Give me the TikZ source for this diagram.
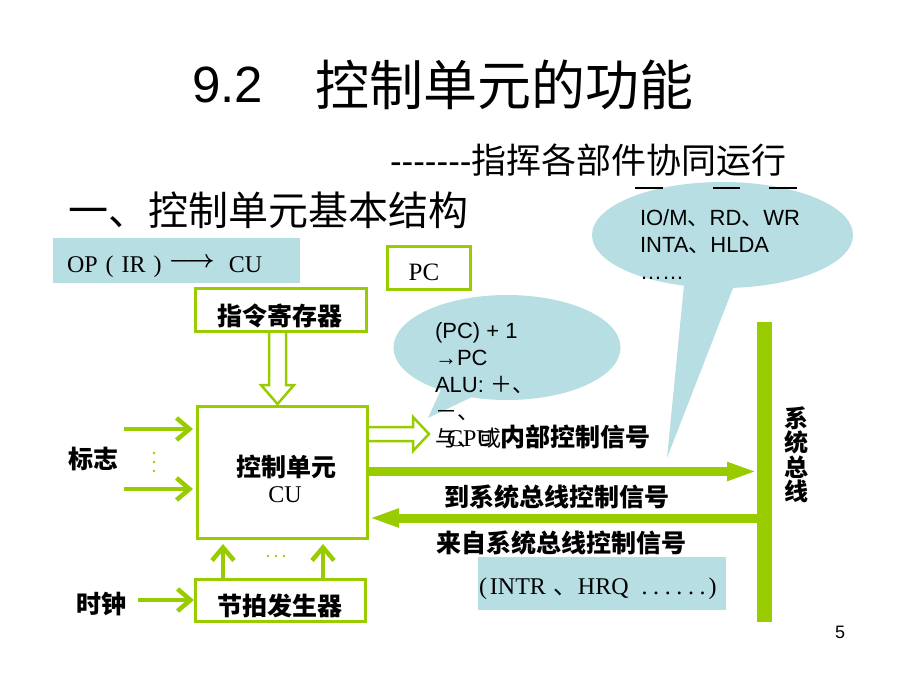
\documentclass[tikz,border=0pt]{standalone}
\usepackage{fontspec}
\setmainfont{Liberation Sans}
\newfontfamily\cjk{Noto Sans CJK SC}
\newfontfamily\tms{Liberation Serif}
\usetikzlibrary{arrows.meta,calc}
\definecolor{gr}{RGB}{153,204,0}
\definecolor{lb}{RGB}{183,222,227}
\newcommand\fz[1]{\fontsize{#1}{#1}\selectfont}
\begin{document}
\begin{tikzpicture}[x=1pt,y=-1pt,
  box/.style={draw=gr,line width=3pt,fill=white,inner sep=0pt},
  bluebox/.style={fill=lb,draw=none,inner sep=0pt,outer sep=0pt},
  txt/.style={inner sep=0pt,outer sep=0pt},
  lbl/.style={inner sep=0pt,outer sep=0pt,font=\cjk\bfseries\fz{25}},
  ctext/.style={inner sep=0pt,outer sep=0pt,anchor=base west,font=\fz{22}},
  thinarr/.style={draw=gr,line width=4.5pt,-{Straight Barb[length=13pt,width=22pt]}},
  thickarr/.style={draw=gr,line width=9pt,-{Triangle[length=30pt,width=17pt]}},
  hollow/.style={draw=gr,line width=2.5pt,fill=white,line join=miter},
  bar/.style={line width=2.5pt}
]
\useasboundingbox (0,0) rectangle (900,675);

% title, subtitle, heading
\node[txt,anchor=base west] (title) at (192,102) {\fz{51}9.2\hspace{53pt}\raisebox{-3pt}{\cjk\fz{54}控制单元的功能}};
\node[txt,anchor=west] (sub) at (390,160) {\fz{35}-{}-{}-{}-{}-{}-{}-{\cjk\fz{35}指挥各部件协同运行}};
\node[txt,anchor=west] (head) at (68,210) {\cjk\fz{40}一、控制单元基本结构};

% callouts
\fill[lb] (722.5,235) ellipse [x radius=130.5, y radius=53];
\fill[lb] (684,285) -- (667,458) -- (735,283) -- cycle;
\fill[lb] (507,347.5) ellipse [x radius=113.5, y radius=52.5];
\fill[lb] (443,385) -- (428,418) -- (472,397) -- cycle;

% OP box
\node[bluebox,minimum width=247pt,minimum height=45pt] (op) at (176.5,260.5) {};
\node[txt,anchor=base west] (opt) at (67,272) {\tms\fz{24}OP\hspace{8pt}(\hspace{8pt}IR\hspace{8pt})\hspace{7pt}\raisebox{5pt}{\boldmath$\longrightarrow$}\hspace{14pt}CU};

% PC
\node[box,minimum width=83pt,minimum height=43pt] (pc) at (429,268) {};
\node[txt] (pct) at (424,272.5) {\tms\fz{25}PC};

% boxes
\node[box,minimum width=171pt,minimum height=43pt] (ir) at (281,310) {};
\node[lbl] (irt) at (280,316) {指令寄存器};
\node[box,minimum width=170pt,minimum height=132pt] (cu) at (282.5,472.5) {};
\node[lbl] (cut1) at (286,466.5) {控制单元};
\node[txt] (cut2) at (285,495) {\tms\fz{24}CU};
\node[box,minimum width=170pt,minimum height=42pt] (beat) at (280.5,600.5) {};
\node[lbl] (beatt) at (280,606) {节拍发生器};

% bus bar
\node[fill=gr,draw=none,inner sep=0pt,outer sep=0pt,minimum width=15pt,minimum height=300pt] (bus) at (764.5,472) {};
\node[inner sep=0pt,align=center,font=\cjk\bfseries\fontsize{24}{24.5}\selectfont] (bust) at (796,455) {系\\统\\总\\线};

% INTR box
\node[bluebox,minimum width=248pt,minimum height=53pt] (intr) at (602,583.5) {};
\node[txt,anchor=base west] (intrt) at (479,594) {\tms\fz{24}(\hspace{3pt}INTR\hspace{8pt}{\cjk 、}HRQ\hspace{13pt}\makebox[64pt][s]{.\hfil.\hfil.\hfil.\hfil.\hfil.}\hspace{3pt})};

% left labels
\node[lbl] (flag) at (93,459) {标志};
\node[lbl] (clk) at (101,604) {时钟};
\fill[gr] (154,453) circle (1.4pt) (154,462) circle (1.4pt) (154,471) circle (1.4pt);
\fill[gr] (268,556) circle (1.3pt) (276,556) circle (1.3pt) (284,556) circle (1.3pt);

% thin arrows
\coordinate (f1) at (124,429);
\coordinate (f2) at (124,489);
\coordinate (c1) at (138,600);
\draw[thinarr,shorten >=3pt] (f1) -- (f1 -| cu.west);
\draw[thinarr,shorten >=3pt] (f2) -- (f2 -| cu.west);
\draw[thinarr] (c1) -- (c1 -| beat.west);
\coordinate (u1) at (223,0);
\coordinate (u2) at (323,0);
\draw[thinarr,shorten >=4pt] (u1 |- beat.north) -- (u1 |- cu.south);
\draw[thinarr,shorten >=4pt] (u2 |- beat.north) -- (u2 |- cu.south);

% hollow arrows
\draw[hollow] (269,333) -- (269,385) -- (261,385) -- (277.5,404) -- (294,385) -- (286,385) -- (286,333);
\draw[hollow] (369,427) -- (413,427) -- (413,417) -- (429,434) -- (413,451) -- (413,441) -- (369,441);

% thick arrows
\coordinate (y1) at (0,471.5);
\coordinate (y2) at (0,518);
\draw[thickarr] (cu.east |- y1) -- (bus.west |- y1);
\draw[thickarr] (bus.west |- y2) -- (cu.east |- y2);

% labels along arrows
\node[txt,anchor=base west] (cpul) at (447,446) {\tms\fz{24}CPU\hspace{7pt}{\cjk\bfseries\fz{25}内部控制信号}};
\node[lbl] (tobus) at (557,497) {到系统总线控制信号};
\node[lbl] (frombus) at (561,543) {来自系统总线控制信号};

% callout texts
\node[ctext] (k1) at (435,338) {(PC) + 1};
\node[ctext] (k2) at (435,365) {→PC};
\node[ctext] (k3) at (435,392) {ALU:\ {\cjk ＋、}};
\node[ctext] (k4) at (435,419) {{\cjk －、}};
\node[ctext] (k5) at (435,446) {{\cjk 与、或}};

\node[ctext] (m1) at (640,225) {IO/M{\cjk 、}RD{\cjk 、}WR};
\node[ctext] (m2) at (640,252) {INTA{\cjk 、}HLDA};
\node[ctext] (m3) at (640,279) {……};
\draw[bar] (635,188) -- (663,188);
\draw[bar] (713,188) -- (740,188);
\draw[bar] (769,188) -- (797,188);

% page number
\node[txt] (pg) at (840,632) {\fz{18}5};
\end{tikzpicture}
\end{document}
